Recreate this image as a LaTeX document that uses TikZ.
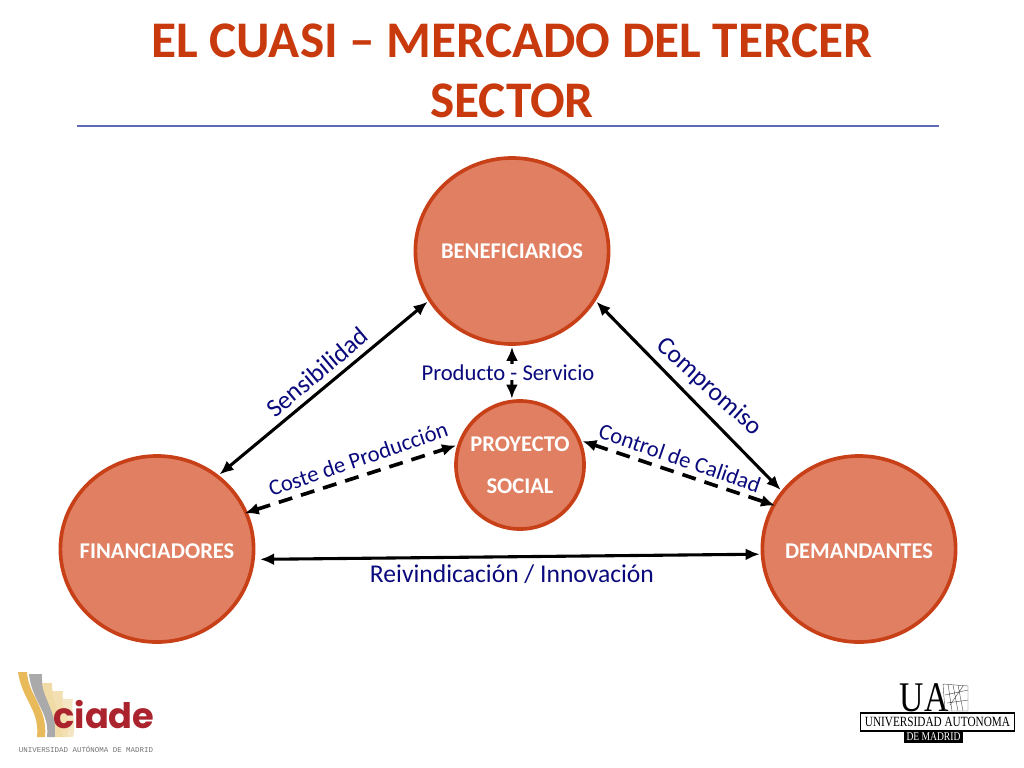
\documentclass[tikz,border=0pt]{standalone}
\usepackage{fontspec}
\setmainfont{Carlito}
\newfontfamily\ciadefont{Poppins}
\newfontfamily\uafont[FakeStretch=0.8]{Liberation Serif}
\newfontfamily\smallmono{Liberation Mono}
\usetikzlibrary{arrows.meta,shapes.geometric}
\definecolor{titlered}{RGB}{200,58,14}
\definecolor{ringred}{RGB}{200,64,24}
\definecolor{discred}{RGB}{224,127,97}
\definecolor{labelblue}{RGB}{10,10,125}
\definecolor{rulelila}{RGB}{95,105,180}
\definecolor{ciadered}{RGB}{170,35,45}
\definecolor{swgold}{RGB}{232,186,90}
\definecolor{swgray}{RGB}{170,170,170}
\definecolor{swa}{RGB}{240,218,165}
\definecolor{swb}{RGB}{243,224,178}
\definecolor{swc}{RGB}{245,230,195}
\newcommand\disctext[1]{\makebox[0pt]{#1}}
\tikzset{
    disc/.style={draw=ringred, fill=discred, line width=2.6pt, inner sep=0pt, outer sep=2pt,
        text=white, align=center, font=\fontsize{16}{30}\selectfont\bfseries},
    bigdisc/.style={disc, ellipse, minimum width=4.83cm, minimum height=4.65cm},
    smalldisc/.style={disc, circle, minimum size=3.2cm},
    conn/.style={{Latex[length=10pt,width=8.5pt]}-{Latex[length=10pt,width=8.5pt]}, line width=2.2pt, black},
    connd/.style={conn, line width=2.6pt, dash pattern=on 10pt off 6.5pt},
    lab/.style={text=labelblue, inner sep=0pt},
    labbig/.style={lab, font=\fontsize{18.2}{20}\selectfont},
    labsmall/.style={lab, font=\fontsize{16.1}{18}\selectfont},
}
\begin{document}
\begin{tikzpicture}[x=0.025cm, y=-0.025cm]
    \useasboundingbox (0,0) rectangle (1024,768);
    \node[text=titlered, align=center, font=\fontsize{36.5}{42.7}\selectfont\bfseries] (title) at (512,71) {EL CUASI -- MERCADO DEL TERCER\\SECTOR};
    \coordinate (ruleL) at (77,126);
    \coordinate (ruleR) at (939,126);
    \draw[rulelila, line width=0.8pt] (ruleL) -- (ruleR);

    \node[bigdisc] (ben) at (512,251) {\disctext{BENEFICIARIOS}};
    \node[bigdisc, text height=13pt] (fin) at (157,549) {\disctext{FINANCIADORES}};
    \node[bigdisc, text height=13pt] (dem) at (859,549) {\disctext{DEMANDANTES}};
    \node[smalldisc] (pro) at (520,465) {PROYECTO\\SOCIAL};

    \draw[conn] (ben.211) -- (fin.50);
    \draw[conn] (ben.329) -- (dem.143);
    \draw[conn] (ben.270) -- (pro.97);
    \draw[conn, shorten <=3pt] (fin.354) -- (dem.183);
    \draw[connd, shorten <=-3pt] (fin.22) -- (pro.163);
    \draw[connd, shorten >=-3pt] (pro.21) -- (dem.153);

    \node[labbig, rotate=40] (sens) at (317,372) {Sensibilidad};
    \node[labbig, rotate=-42] (comp) at (709,387) {Compromiso};
    \node[labsmall, rotate=19] (coste) at (358,459) {Coste de Producción};
    \node[labsmall, rotate=-19] (ctrl) at (680,458) {Control de Calidad};
    \node[labsmall, fill=white, text height=12pt, text depth=0pt] (prod) at (508,372) {Producto - Servicio};
    \node[labbig] (reiv) at (512,574) {Reivindicación / Innovación};

    \fill[swgold] (18,672) .. controls (22,700) and (40,710) .. (37,737) -- (45,737) .. controls (48,708) and (28,695) .. (27,672) -- cycle;
    \fill[swgray] (29,674) .. controls (32,702) and (50,712) .. (47,737) -- (55,737) .. controls (58,708) and (40,695) .. (42,674) -- cycle;
    \fill[swa] (42,683) .. controls (44,700) and (58,715) .. (55,737) -- (63,737) .. controls (66,715) and (50,695) .. (52,683) -- cycle;
    \fill[swb] (52,691) .. controls (54,708) and (65,718) .. (62,737) -- (68,737) .. controls (72,718) and (60,702) .. (63,691) -- cycle;
    \fill[swc] (62,699) .. controls (64,712) and (71,722) .. (68,737) -- (73,737) .. controls (77,722) and (70,710) .. (73,699) -- cycle;
    \node[text=ciadered, inner sep=0pt, font=\fontsize{25}{26}\ciadefont\bfseries] (ciade) at (104,715) {ciade};
    \node[text=black!55, inner sep=0pt, font=\fontsize{5.3}{6}\smallmono] (ciadeuni) at (86,749) {UNIVERSIDAD AUTÓNOMA DE MADRID};

    \node[inner sep=0pt, font=\fontsize{30}{30}\uafont] (ua) at (924,698) {UA};
    \draw[black!70, line width=0.3pt] (943,684) -- (968,686) -- (968,711) -- (945,711) -- cycle;
    \draw[black!70, line width=0.3pt] (948,684) -- (952,711) (953,685) -- (958,711) (958,685) -- (963,711) (945,695) -- (968,690) (947,703) -- (968,700) (963,686) -- (950,705);
    \node[draw=black, line width=0.8pt, minimum width=3.85cm, minimum height=0.45cm, inner sep=0pt, font=\fontsize{10}{12}\uafont] (uabox) at (937.5,722) {UNIVERSIDAD AUTONOMA};
    \node[fill=black, text=white, minimum width=1.47cm, minimum height=0.3cm, inner sep=0pt, font=\fontsize{8.5}{10}\uafont] (uamad) at (933.5,737) {DE MADRID};
\end{tikzpicture}
\end{document}
